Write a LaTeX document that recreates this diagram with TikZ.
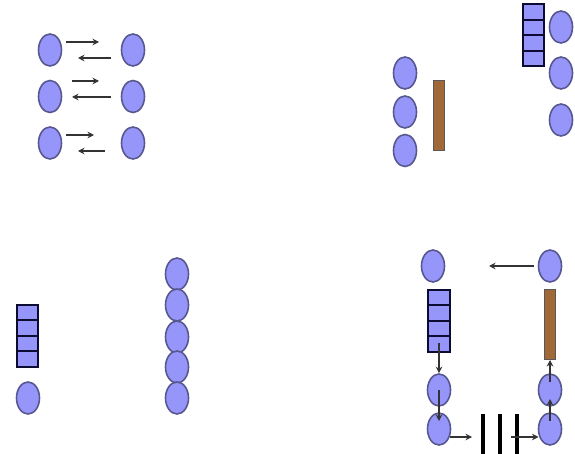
\documentclass[tikz,border=0pt]{standalone}
\usepackage{tikz}
\usetikzlibrary{positioning,arrows.meta,shapes.geometric}
\definecolor{discfill}{RGB}{150,150,250}
\definecolor{discline}{RGB}{88,88,145}
\definecolor{cellline}{RGB}{12,12,50}
\definecolor{barfill}{RGB}{160,105,55}
\begin{document}
\begin{tikzpicture}[
        x=1pt, y=-1pt,
        node distance=0pt,
        disc/.style={ellipse, draw=discline, fill=discfill, line width=1.6pt, inner sep=0pt, minimum width=23pt, minimum height=32pt},
        cell/.style={rectangle, draw=cellline, fill=discfill, line width=2.4pt, inner sep=0pt, outer sep=0pt, minimum width=21.5pt, minimum height=15.5pt},
        slab/.style={rectangle, draw=black!65, fill=barfill, line width=1pt, inner sep=0pt, minimum width=11.5pt, minimum height=70pt},
        gate/.style={rectangle, fill=black, inner sep=0pt, minimum width=3.6pt, minimum height=40pt},
        arrow/.style={-{Stealth[length=6.5pt,width=6.5pt]}, line width=1.2pt, draw=black!80}
    ]
    \useasboundingbox (0,0) rectangle (575,454);
    % Top left
    \node[disc] (tl1) at (50,50) {};
    \node[disc] (tr1) at (133,50) {};
    \node[disc] (tl2) at (50,96.5) {};
    \node[disc] (tr2) at (133,96.5) {};
    \node[disc] (tl3) at (50,143) {};
    \node[disc] (tr3) at (133,143) {};
    \coordinate (a1) at (66,42);
    \coordinate (a2) at (99,42);
    \coordinate (b1) at (111,58);
    \coordinate (b2) at (78,58);
    \coordinate (c1) at (72,81);
    \coordinate (c2) at (99,81);
    \coordinate (d1) at (111,97);
    \coordinate (d2) at (72,97);
    \coordinate (e1) at (66,135);
    \coordinate (e2) at (94,135);
    \coordinate (f1) at (105,151);
    \coordinate (f2) at (78,151);
    % Top right
    \node[disc] (ml1) at (405,73) {};
    \node[disc] (ml2) at (405,112) {};
    \node[disc] (ml3) at (405,150.5) {};
    \node[slab] (mbar) at (439,116) {};
    \node[cell] (qa1) at (533.5,12) {};
    \node[cell, below=of qa1] (qa2) {};
    \node[cell, below=of qa2] (qa3) {};
    \node[cell, below=of qa3] (qa4) {};
    \node[disc] (mr1) at (561,27) {};
    \node[disc] (mr2) at (561,73) {};
    \node[disc] (mr3) at (561,120) {};
    % Bottom left
    \node[cell] (qb1) at (27.5,312.5) {};
    \node[cell, below=of qb1] (qb2) {};
    \node[cell, below=of qb2] (qb3) {};
    \node[cell, below=of qb3] (qb4) {};
    \node[disc] (bl) at (28,398) {};
    \node[disc] (st1) at (177,274) {};
    \node[disc] (st2) at (177,305) {};
    \node[disc] (st3) at (177,337) {};
    \node[disc] (st4) at (177,367) {};
    \node[disc] (st5) at (177,398) {};
    % Bottom right
    \node[disc] (nl1) at (433,266) {};
    \node[disc] (nr1) at (550,266) {};
    \node[cell] (qc1) at (439,297.5) {};
    \node[cell, below=of qc1] (qc2) {};
    \node[cell, below=of qc2] (qc3) {};
    \node[cell, below=of qc3] (qc4) {};
    \node[slab] (nbar) at (550,324.5) {};
    \node[disc] (nl2) at (439,390) {};
    \node[disc] (nl3) at (439,429) {};
    \node[disc] (nr2) at (550,390) {};
    \node[disc] (nr3) at (550,429) {};
    \node[gate] (g1) at (483,434) {};
    \node[gate] (g2) at (500,434) {};
    \node[gate] (g3) at (517,434) {};
    \coordinate (h1) at (534,266);
    \coordinate (h2) at (489,266);
    \coordinate (i1) at (439,343);
    \coordinate (j1) at (439,390);
    \coordinate (j2) at (439,421);
    \coordinate (k1) at (450,437);
    \coordinate (k2) at (472,437);
    \coordinate (l1) at (511,437);
    \coordinate (l2) at (538.5,437);
    \coordinate (m1) at (550,421);
    \coordinate (m2) at (550,399);
    \coordinate (n1) at (550,382);
    % Arrows
    \draw[arrow] (a1) -- (a2);
    \draw[arrow] (b1) -- (b2);
    \draw[arrow] (c1) -- (c2);
    \draw[arrow] (d1) -- (d2);
    \draw[arrow] (e1) -- (e2);
    \draw[arrow] (f1) -- (f2);
    \draw[arrow] (h1) -- (h2);
    \draw[arrow] (i1) -- (nl2);
    \draw[arrow] (j1) -- (j2);
    \draw[arrow] (k1) -- (k2);
    \draw[arrow] (l1) -- (l2);
    \draw[arrow] (m1) -- (m2);
    \draw[arrow] (n1) -- (nbar);
    \end{tikzpicture}
\end{document}
